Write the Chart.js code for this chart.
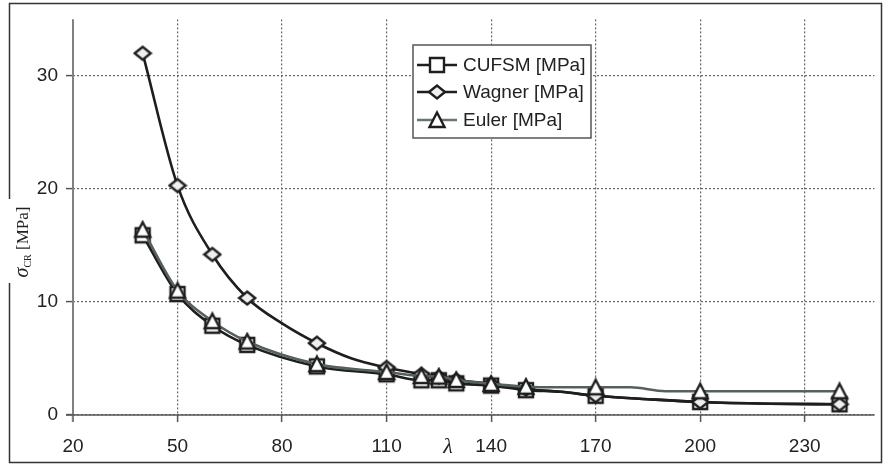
<!DOCTYPE html>
<html>
<head>
<meta charset="utf-8">
<script src="https://cdn.jsdelivr.net/npm/chart.js@4.4.1/dist/chart.umd.min.js"></script>
<style>
    html, body { margin: 0; padding: 0; background: #fff; }
    #wrap { width: 885px; height: 464px; }
</style>
</head>
<body>
<div id="wrap"><canvas id="chartSigma" width="885" height="464"></canvas></div>
<script>
// esbeltez con marcador
const lambdaMarcas = [40, 50, 60, 70, 90, 110, 120, 125, 130, 140, 150, 170, 200, 240];

const lambdaCufsm = [40, 50, 60, 70, 90, 110, 120, 125, 130, 140, 150, 160, 170, 185, 200, 220, 240];
const sigmaCufsm  = [15.9, 10.7, 7.9, 6.2, 4.3, 3.6, 3.07, 3.07, 2.8, 2.6, 2.2, 2.05, 1.7, 1.4, 1.15, 1.0, 0.95];

const lambdaWagner = [40, 50, 60, 70, 80, 90, 100, 110, 120, 125, 130, 140, 150, 160, 170, 185, 200, 220, 240];
const sigmaWagner  = [32.0, 20.3, 14.2, 10.35, 8.1, 6.35, 5.0, 4.2, 3.6, 3.35, 3.1, 2.75, 2.3, 2.05, 1.7, 1.4, 1.15, 1.0, 0.95];

const lambdaEuler = [40, 50, 60, 70, 90, 110, 120, 125, 130, 140, 150, 160, 170, 180, 190, 200, 240];
const sigmaEuler  = [16.4, 11.0, 8.3, 6.5, 4.5, 3.8, 3.45, 3.4, 3.1, 2.75, 2.5, 2.45, 2.45, 2.45, 2.1, 2.1, 2.1];

const xTicks = [20, 50, 80, 110, 140, 170, 200, 230];
const yTicks = [0, 10, 20, 30];
const etiquetas = ['CUFSM [MPa]', 'Wagner [MPa]', 'Euler [MPa]'];

const NEGRO = '#1e1e1e';
const GRIS_EULER = '#56605f';
const FUENTE = '"Liberation Sans", Arial, sans-serif';
const SERIF = '"Liberation Serif", "Times New Roman", serif';

function marcador(tipo) {
    const c = document.createElement('canvas');
    c.width = 20; c.height = 20;
    const g = c.getContext('2d');
    g.lineWidth = 2.4;
    g.strokeStyle = NEGRO;
    g.lineJoin = 'miter';
    g.beginPath();
    if (tipo === 'cuadro') {
        g.rect(3, 3, 14, 14);
        g.fillStyle = '#fff';
    } else if (tipo === 'rombo') {
        g.moveTo(2, 10); g.lineTo(10, 3.5); g.lineTo(18, 10); g.lineTo(10, 16.5); g.closePath();
        g.fillStyle = '#efefef';
    } else {
        g.moveTo(10, 2.5); g.lineTo(17.5, 17); g.lineTo(2.5, 17); g.closePath();
        g.fillStyle = '#fff';
    }
    g.fill();
    g.stroke();
    return c;
}

const marcas = { cuadro: marcador('cuadro'), rombo: marcador('rombo'), triangulo: marcador('triangulo') };

const puntos = (xs, ys) => xs.map((x, i) => ({ x, y: ys[i] }));
const radioMarca = ctx => lambdaMarcas.includes(ctx.raw.x) ? 8 : 0;

function serie(label, xs, ys, color, estilo, orden) {
    return {
        label,
        data: puntos(xs, ys),
        borderColor: color,
        borderWidth: 2.6,
        cubicInterpolationMode: 'monotone',
        pointStyle: estilo,
        pointRadius: radioMarca,
        pointHoverRadius: radioMarca,
        order: orden,
        fill: false
    };
}

// ejes, marco, titulo y leyenda dibujados a mano
const extras = {
    id: 'extras',
    beforeDatasetsDraw(chart) {
        const { ctx, chartArea: a } = chart;
        ctx.save();
        ctx.setLineDash([]);
        ctx.strokeStyle = '#808080';
        ctx.lineWidth = 2;
        ctx.beginPath();
        ctx.moveTo(a.left, a.top);
        ctx.lineTo(a.left, a.bottom + 7);
        ctx.stroke();
        ctx.strokeStyle = '#555';
        ctx.lineWidth = 1.5;
        ctx.beginPath();
        ctx.moveTo(a.left - 7, a.bottom);
        ctx.lineTo(a.right, a.bottom);
        ctx.stroke();
        ctx.restore();
    },
    afterDraw(chart) {
        const { ctx } = chart;
        ctx.save();
        ctx.setLineDash([]);

        // marco exterior
        ctx.strokeStyle = '#333';
        ctx.lineWidth = 1.5;
        ctx.strokeRect(9.5, 3.5, 872, 459);

        // titulo del eje y
        ctx.fillStyle = '#fff';
        ctx.fillRect(4, 199, 30, 84);
        ctx.translate(23, 242);
        ctx.rotate(-Math.PI / 2);
        ctx.fillStyle = '#222';
        ctx.textBaseline = 'alphabetic';
        const partes = [
            { t: '\u03C3', f: 'italic 20px ' + SERIF, dy: 0 },
            { t: 'CR', f: '10px ' + SERIF, dy: 3 },
            { t: ' [MPa]', f: '17px ' + SERIF, dy: 0 }
        ];
        let total = 0;
        partes.forEach(p => { ctx.font = p.f; p.w = ctx.measureText(p.t).width; total += p.w; });
        let px = -total / 2;
        partes.forEach(p => { ctx.font = p.f; ctx.fillText(p.t, px, 5 + p.dy); px += p.w; });
        ctx.setTransform(1, 0, 0, 1, 0, 0);

        // lambda junto al eje x
        ctx.font = 'italic 22px ' + SERIF;
        ctx.textAlign = 'center';
        ctx.textBaseline = 'middle';
        ctx.fillStyle = '#222';
        ctx.fillText('\u03BB', 448, 447);

        // leyenda
        ctx.fillStyle = '#fff';
        ctx.fillRect(413, 45, 178, 93);
        ctx.strokeStyle = '#555';
        ctx.lineWidth = 1.5;
        ctx.strokeRect(413, 45, 178, 93);
        const filas = [
            { y: 65, color: NEGRO, m: marcas.cuadro },
            { y: 92, color: NEGRO, m: marcas.rombo },
            { y: 120, color: '#6a7474', m: marcas.triangulo }
        ];
        ctx.textAlign = 'left';
        ctx.font = '19px ' + FUENTE;
        filas.forEach((f, i) => {
            ctx.strokeStyle = f.color;
            ctx.lineWidth = 2.6;
            ctx.beginPath();
            ctx.moveTo(417, f.y);
            ctx.lineTo(457, f.y);
            ctx.stroke();
            ctx.drawImage(f.m, 437 - 10, f.y - 10);
            ctx.fillStyle = '#222';
            ctx.fillText(etiquetas[i], 463, f.y + 1);
        });
        ctx.restore();
    }
};

new Chart(document.getElementById('chartSigma'), {
    type: 'line',
    data: {
        datasets: [
            serie(etiquetas[0], lambdaCufsm, sigmaCufsm, NEGRO, marcas.cuadro, 3),
            serie(etiquetas[1], lambdaWagner, sigmaWagner, NEGRO, marcas.rombo, 2),
            serie(etiquetas[2], lambdaEuler, sigmaEuler, GRIS_EULER, marcas.triangulo, 1)
        ]
    },
    options: {
        responsive: false,
        animation: false,
        layout: { padding: { top: 19, right: 8, left: 0, bottom: 0 } },
        plugins: { legend: { display: false }, tooltip: { enabled: false } },
        scales: {
            x: {
                type: 'linear',
                min: 20,
                max: 250,
                afterBuildTicks: s => { s.ticks = xTicks.map(v => ({ value: v })); },
                afterFit: s => { s.height = 49; },
                grid: { color: '#666', lineWidth: 1.2, tickLength: 7, tickColor: '#555', tickWidth: 1.5 },
                border: { display: false, dash: [2, 2] },
                ticks: { color: '#222', font: { size: 19, family: FUENTE }, padding: 13, maxRotation: 0 }
            },
            y: {
                min: 0,
                max: 35,
                afterBuildTicks: s => { s.ticks = yTicks.map(v => ({ value: v })); },
                afterFit: s => { s.width = 73; },
                grid: { color: '#666', lineWidth: 1.2, tickLength: 7, tickColor: '#555', tickWidth: 1.5 },
                border: { display: false, dash: [2, 2] },
                ticks: { color: '#222', font: { size: 19, family: FUENTE }, padding: 8 }
            }
        }
    },
    plugins: [extras]
});
</script>
</body>
</html>
